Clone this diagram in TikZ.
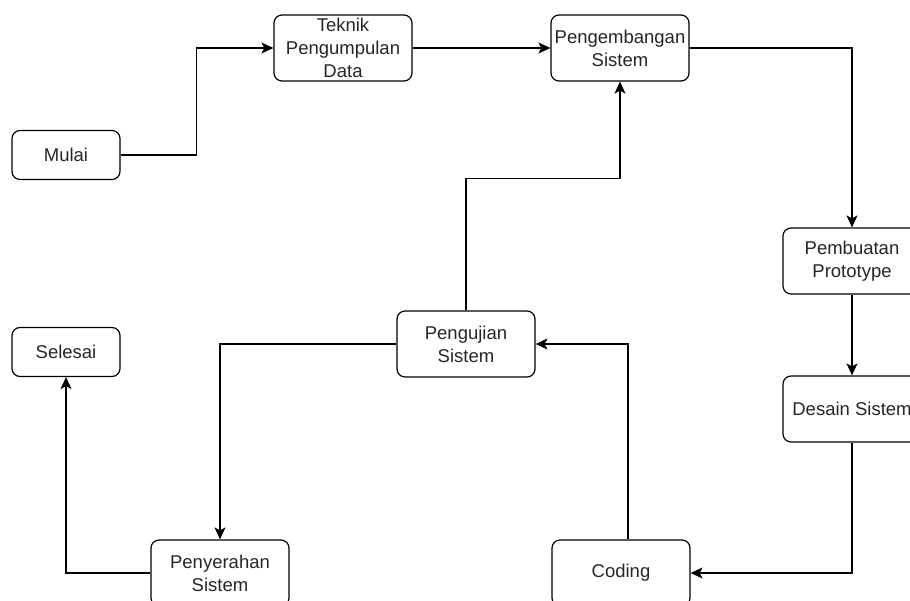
\documentclass[tikz,border=0pt]{standalone}
\usepackage{fontspec}
\setmainfont{Liberation Sans}
\usetikzlibrary{arrows.meta}

\newcommand*\stagewidth{138pt}
\newcommand*\stageheight{66pt}
\tikzset{stage/.style 2 args={
    draw,
    line width=1.2pt,
    rectangle,
    rounded corners=8pt,
    fill=white,
    text=black!85,
    inner sep=0pt,
    minimum width=#1,
    minimum height=#2,
    align=center,
    font=\fontsize{18.5}{23}\selectfont
},
flow/.style={
    draw,
    line width=1.2pt,
    -{Stealth[length=12pt,width=11pt,inset=3pt]}
}}

\begin{document}
\begin{tikzpicture}[x=1pt,y=-1pt]

    \clip (0,0) rectangle (910,600);

    % First place the stages (x to the right, y downwards, as in the sketch).
    %\node[stage={WIDTH}{HEIGHT}] (NAME) at (X,Y) {TEXT};
    \node[stage={108pt}{49pt}] (mulai) at (66,155) {Mulai};
    \node[stage={\stagewidth}{\stageheight}] (teknik) at (343,48) {Teknik\\Pengumpulan\\Data};
    \node[stage={\stagewidth}{\stageheight}] (pengembangan) at (620,48) {Pengembangan\\Sistem};
    \node[stage={\stagewidth}{\stageheight}] (pembuatan) at (852,261) {Pembuatan\\Prototype};
    \node[stage={\stagewidth}{\stageheight}] (desain) at (852,409) {Desain Sistem};
    \node[stage={\stagewidth}{\stageheight}] (pengujian) at (466,344) {Pengujian\\Sistem};
    \node[stage={108pt}{49pt}] (selesai) at (66,352) {Selesai};
    \node[stage={\stagewidth}{\stageheight}] (penyerahan) at (220,573) {Penyerahan\\Sistem};
    \node[stage={\stagewidth}{\stageheight}] (coding) at (621,573) {Coding};

    % Then the flow between them.
    \draw[flow] (mulai.east) -- ++(76,0) |- (teknik.west);
    \draw[flow] (teknik.east) -- (pengembangan.west);
    \draw[flow] (pengembangan.east) -| (pembuatan.north);
    \draw[flow] (pembuatan.south) -- (desain.north);
    \draw[flow] (desain.south) |- (coding.east);
    \draw[flow] ([xshift=7pt]coding.north) |- (pengujian.east);
    \draw[flow] (pengujian.north) -- ++(0,-132) -| (pengembangan.south);
    \draw[flow] (pengujian.west) -| (penyerahan.north);
    \draw[flow] (penyerahan.west) -| (selesai.south);

\end{tikzpicture}
\end{document}
